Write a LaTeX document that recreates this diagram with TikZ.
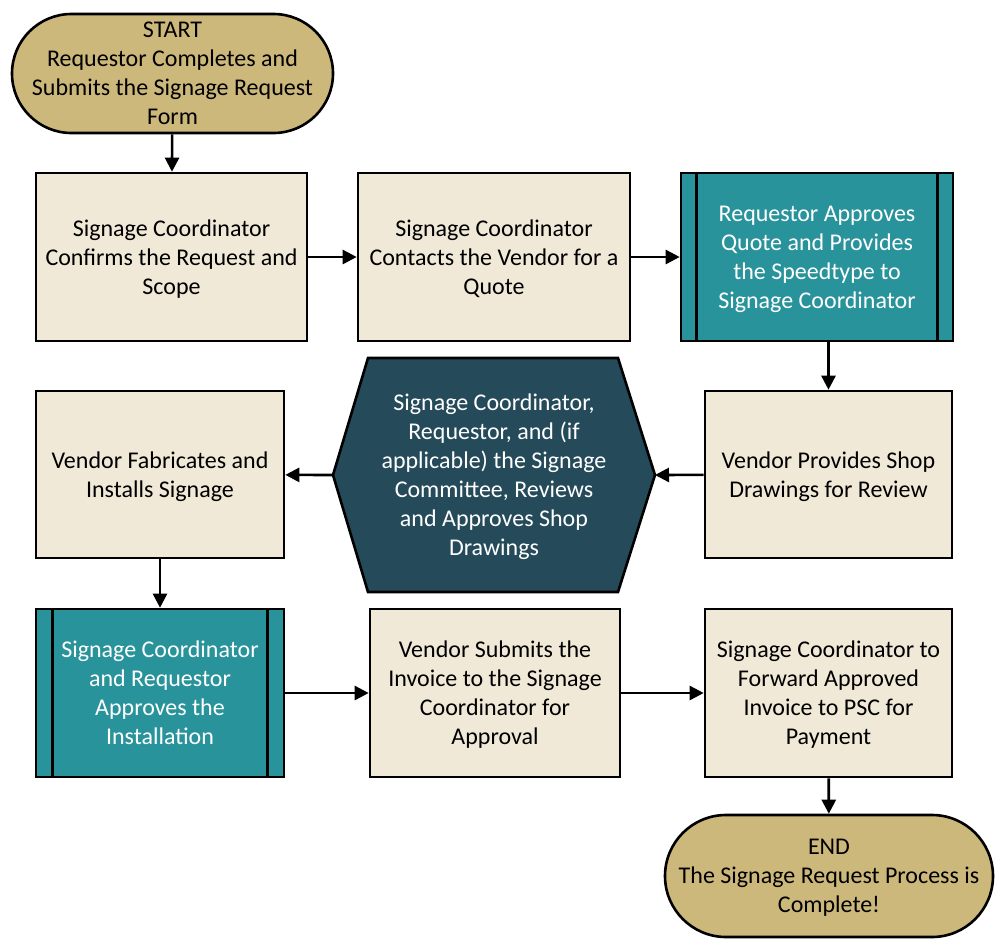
\documentclass[tikz,border=0pt]{standalone}
\usepackage{fontspec}
\setmainfont{Carlito}
\usetikzlibrary{arrows.meta}
\definecolor{tan}{RGB}{205,184,124}
\definecolor{cream}{RGB}{240,233,216}
\definecolor{teal}{RGB}{41,147,155}
\definecolor{deep}{RGB}{37,75,90}
\tikzset{
  base/.style={draw=black,line width=2.6pt,align=center,inner sep=0pt,
    font=\fontsize{24}{29}\selectfont,text depth=-3pt},
  term/.style={base,rectangle,fill=tan,rounded corners=#1},
  procbox/.style={base,rectangle,fill=cream},
  pproc/.style={base,rectangle,fill=teal,text=white},
  arr/.style={line width=2.6pt,-{Triangle[length=14pt,width=14pt]}},
}
\begin{document}
\begin{tikzpicture}[x=1pt,y=-1pt]
\useasboundingbox (0,0) rectangle (1007,948);
% nodes
\node[term=59.5pt,minimum width=321pt,minimum height=119pt] (start) at (172.5,73.5)
  {START\\Requestor Completes and\\Submits the Signage Request\\Form};
\node[procbox,minimum width=271pt,minimum height=168pt] (b1) at (171.5,257)
  {Signage Coordinator\\Confirms the Request and\\Scope};
\node[procbox,minimum width=272pt,minimum height=168pt] (b2) at (494,257)
  {Signage Coordinator\\Contacts the Vendor for a\\Quote};
\node[pproc,minimum width=272pt,minimum height=168pt] (b3) at (817,257)
  {Requestor Approves\\Quote and Provides\\the Speedtype to\\Signage Coordinator};
\draw[line width=2.6pt] ([xshift=17pt]b3.north west) -- ([xshift=17pt]b3.south west);
\draw[line width=2.6pt] ([xshift=-17pt]b3.north east) -- ([xshift=-17pt]b3.south east);
\node[procbox,minimum width=247pt,minimum height=167pt] (b4) at (828.5,474.5)
  {Vendor Provides Shop\\Drawings for Review};
% hexagon
\coordinate (hexL) at (333,475);
\coordinate (hexR) at (655,475);
\draw[line width=2.6pt,fill=deep] (hexL) -- (368,358) -- (618,358) -- (hexR) -- (618,592) -- (368,592) -- cycle;
\node[base,draw=none,text=white] (hex) at (494,475)
  {Signage Coordinator,\\Requestor, and (if\\applicable) the Signage\\Committee, Reviews\\and Approves Shop\\Drawings};
\node[procbox,minimum width=248pt,minimum height=167pt] (b5) at (160,474.5)
  {Vendor Fabricates and\\Installs Signage};
\node[pproc,minimum width=248pt,minimum height=168pt] (b6) at (160,693)
  {Signage Coordinator\\and Requestor\\Approves the\\Installation};
\draw[line width=2.6pt] ([xshift=18pt]b6.north west) -- ([xshift=18pt]b6.south west);
\draw[line width=2.6pt] ([xshift=-18pt]b6.north east) -- ([xshift=-18pt]b6.south east);
\node[procbox,minimum width=250pt,minimum height=168pt] (b7) at (495,693)
  {Vendor Submits the\\Invoice to the Signage\\Coordinator for\\Approval};
\node[procbox,minimum width=247pt,minimum height=168pt] (b8) at (828.5,693)
  {Signage Coordinator to\\Forward Approved\\Invoice to PSC for\\Payment};
\node[term=61pt,minimum width=328pt,minimum height=122pt] (end) at (829,876)
  {END\\The Signage Request Process is\\Complete!};
% connectors
\draw[arr] (start) -- (b1);
\draw[arr] (b1) -- (b2);
\draw[arr] (b2) -- (b3);
\draw[arr] (b4.north |- b3.south) -- (b4.north);
\draw[arr] (b4) -- (hexR);
\draw[arr] (hexL) -- (b5);
\draw[arr] (b5) -- (b6);
\draw[arr] (b6) -- (b7);
\draw[arr] (b7) -- (b8);
\draw[arr] (b8) -- (end);
\end{tikzpicture}
\end{document}
